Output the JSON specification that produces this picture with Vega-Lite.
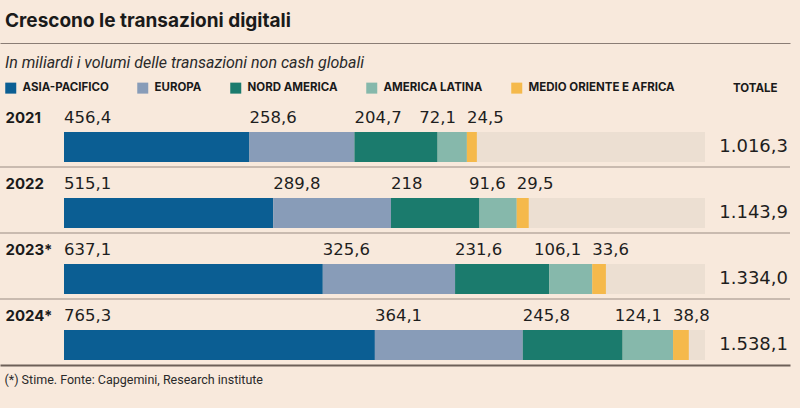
{
  "$schema": "https://vega.github.io/schema/vega-lite/v6.json",
  "width": 790,
  "height": 264,
  "autosize": {"type": "none"},
  "padding": {"top": 101, "left": 0, "right": 10, "bottom": 43},
  "background": "#f8e9dc",
  "config": {
    "view": {"stroke": null},
    "font": "Roboto",
    "locale": {"number": {"decimal": ",", "thousands": ".", "grouping": [3], "currency": ["€", ""]}}
  },
  "title": {
    "text": "Crescono le transazioni digitali",
    "subtitle": "In miliardi i volumi delle transazioni non cash globali",
    "anchor": "start",
    "frame": "group",
    "dx": 5,
    "offset": -28,
    "font": "Inter",
    "fontSize": 19,
    "fontWeight": "bold",
    "color": "#1a1a1a",
    "subtitleFont": "Roboto",
    "subtitleFontSize": 16,
    "subtitleFontStyle": "italic",
    "subtitleColor": "#2a2a2a",
    "subtitlePadding": 24
  },
  "datasets": {
    "segments": [
      {"year": "2021", "region": "Asia-Pacifico", "value": 456.4},
      {"year": "2021", "region": "Europa", "value": 258.6},
      {"year": "2021", "region": "Nord America", "value": 204.7},
      {"year": "2021", "region": "America Latina", "value": 72.1},
      {"year": "2021", "region": "Medio Oriente e Africa", "value": 24.5},
      {"year": "2022", "region": "Asia-Pacifico", "value": 515.1},
      {"year": "2022", "region": "Europa", "value": 289.8},
      {"year": "2022", "region": "Nord America", "value": 218},
      {"year": "2022", "region": "America Latina", "value": 91.6},
      {"year": "2022", "region": "Medio Oriente e Africa", "value": 29.5},
      {"year": "2023*", "region": "Asia-Pacifico", "value": 637.1},
      {"year": "2023*", "region": "Europa", "value": 325.6},
      {"year": "2023*", "region": "Nord America", "value": 231.6},
      {"year": "2023*", "region": "America Latina", "value": 106.1},
      {"year": "2023*", "region": "Medio Oriente e Africa", "value": 33.6},
      {"year": "2024*", "region": "Asia-Pacifico", "value": 765.3},
      {"year": "2024*", "region": "Europa", "value": 364.1},
      {"year": "2024*", "region": "Nord America", "value": 245.8},
      {"year": "2024*", "region": "America Latina", "value": 124.1},
      {"year": "2024*", "region": "Medio Oriente e Africa", "value": 38.8}
    ],
    "totals": [
      {"year": "2021", "total": 1016.3},
      {"year": "2022", "total": 1143.9},
      {"year": "2023*", "total": 1334.0},
      {"year": "2024*", "total": 1538.1}
    ]
  },
  "resolve": {"axis": {"x": "independent"}},
  "layer": [
    {
      "data": {"name": "totals"},
      "mark": {"type": "bar", "color": "#ecdfd2", "height": 30, "yOffset": 13},
      "encoding": {
        "y": {
          "field": "year", "type": "nominal",
          "scale": {"domain": ["2021", "2022", "2023*", "2024*"], "paddingInner": 0, "paddingOuter": 0},
          "axis": {
            "title": null, "domain": false, "ticks": false, "grid": false,
            "labelAlign": "left", "labelPadding": -5, "labelOffset": -16, "labelBaseline": "middle",
            "labelFont": "Inter", "labelFontSize": 15, "labelFontWeight": "bold", "labelColor": "#1a1a1a"
          }
        },
        "x": {
          "datum": 0, "type": "quantitative",
          "scale": {"domain": [-157.55, 1787.2], "nice": false, "zero": false},
          "axis": {
            "orient": "bottom", "labels": false, "ticks": false, "grid": false,
            "domainColor": "#6d6058", "domainWidth": 2,
            "title": "(*) Stime. Fonte: Capgemini, Research institute",
            "titleX": 4, "titleY": 14, "titleAlign": "left", "titleAnchor": "start", "titleBaseline": "middle",
            "titleFont": "Roboto", "titleFontSize": 12.5, "titleFontWeight": "normal", "titleColor": "#2a2a2a"
          }
        },
        "x2": {"datum": 1578}
      }
    },
    {
      "data": {"name": "segments"},
      "transform": [
        {"calculate": "indexof(['Asia-Pacifico','Europa','Nord America','America Latina','Medio Oriente e Africa'], datum.region)", "as": "ord"},
        {"stack": "value", "groupby": ["year"], "sort": [{"field": "ord"}], "as": ["x0", "x1"]}
      ],
      "mark": {"type": "bar", "height": 30, "yOffset": 13},
      "encoding": {
        "y": {"field": "year", "type": "nominal"},
        "x": {
          "field": "x0", "type": "quantitative",
          "scale": {"domain": [-157.55, 1787.2], "nice": false, "zero": false},
          "axis": {
            "orient": "top", "offset": 58, "labels": false, "ticks": false, "grid": false,
            "domainColor": "#8a7d75", "domainWidth": 1,
            "title": "TOTALE", "titleX": 777, "titleY": 45, "titleAlign": "right", "titleBaseline": "middle",
            "titleFont": "Inter", "titleFontSize": 11.5, "titleFontWeight": "bold", "titleColor": "#1a1a1a"
          }
        },
        "x2": {"field": "x1"},
        "color": {
          "field": "region", "type": "nominal",
          "scale": {
            "domain": ["Asia-Pacifico", "Europa", "Nord America", "America Latina", "Medio Oriente e Africa"],
            "range": ["#0b5e93", "#889cb8", "#1b7b6d", "#86b8ab", "#f5b94b"]
          },
          "legend": {
            "orient": "none", "legendX": 5, "legendY": -19, "direction": "horizontal",
            "title": null, "padding": 0,
            "symbolType": "square", "symbolSize": 121, "symbolStrokeWidth": 0, "symbolOpacity": 1,
            "labelExpr": "upper(datum.label)", "labelFont": "Inter", "labelFontSize": 11.5,
            "labelFontWeight": "bold", "labelColor": "#1a1a1a", "labelOffset": 6, "columnPadding": 28
          }
        }
      }
    },
    {
      "data": {"name": "segments"},
      "transform": [
        {"calculate": "indexof(['Asia-Pacifico','Europa','Nord America','America Latina','Medio Oriente e Africa'], datum.region)", "as": "ord"},
        {"stack": "value", "groupby": ["year"], "sort": [{"field": "ord"}], "as": ["x0", "x1"]},
        {"filter": "datum.region != 'America Latina'"}
      ],
      "mark": {"type": "text", "align": "left", "baseline": "middle", "yOffset": -16, "font": "DejaVu Sans", "fontSize": 16.5, "color": "#1e1e1e"},
      "encoding": {
        "y": {"field": "year", "type": "nominal"},
        "x": {
          "field": "x0", "type": "quantitative",
          "scale": {"domain": [-157.55, 1787.2], "nice": false, "zero": false},
          "axis": null
        },
        "text": {"field": "value", "type": "quantitative", "format": ".1~f"}
      }
    },
    {
      "data": {"name": "segments"},
      "transform": [
        {"calculate": "indexof(['Asia-Pacifico','Europa','Nord America','America Latina','Medio Oriente e Africa'], datum.region)", "as": "ord"},
        {"stack": "value", "groupby": ["year"], "sort": [{"field": "ord"}], "as": ["x0", "x1"]},
        {"filter": "datum.region == 'America Latina'"}
      ],
      "mark": {"type": "text", "align": "right", "baseline": "middle", "yOffset": -16, "dx": -11, "font": "DejaVu Sans", "fontSize": 16.5, "color": "#1e1e1e"},
      "encoding": {
        "y": {"field": "year", "type": "nominal"},
        "x": {
          "field": "x1", "type": "quantitative",
          "scale": {"domain": [-157.55, 1787.2], "nice": false, "zero": false},
          "axis": null
        },
        "text": {"field": "value", "type": "quantitative", "format": ".1~f"}
      }
    },
    {
      "data": {"name": "totals"},
      "mark": {"type": "text", "align": "right", "baseline": "middle", "x": "width", "dx": -2, "yOffset": 13, "font": "DejaVu Sans", "fontSize": 18, "color": "#1e1e1e"},
      "encoding": {
        "y": {"field": "year", "type": "nominal"},
        "text": {"field": "total", "type": "quantitative", "format": ",.1f"}
      }
    },
    {
      "data": {"name": "totals"},
      "transform": [{"filter": "datum.year != '2024*'"}],
      "mark": {"type": "rule", "color": "#9a8c83", "strokeWidth": 1},
      "encoding": {
        "y": {"field": "year", "type": "nominal", "bandPosition": 1}
      }
    }
  ]
}
